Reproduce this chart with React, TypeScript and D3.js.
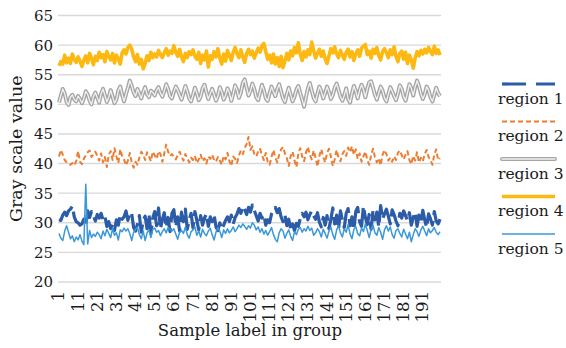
import React from "react";
import * as d3 from "d3";

const samples: number[] = Array.from({ length: 200 }, (_, i) => i + 1);
const tickLabels: number[] = [1, 11, 21, 31, 41, 51, 61, 71, 81, 91, 101, 111, 121, 131, 141, 151, 161, 171, 181, 191];
const yTicks: number[] = [20, 25, 30, 35, 40, 45, 50, 55, 60, 65];
const seriesNames: string[] = ["region 1", "region 2", "region 3", "region 4", "region 5"];

const region1: number[] = [
  30.5, 30.4, 31.3, 31.8, 31.2, 32.0, 32.3, 32.8, 31.0, 30.2, 30.0, 29.6, 29.8, 30.6, 29.5, 32.0, 30.9, 31.9, 31.2, 30.3,
  31.4, 30.8, 31.6, 30.5, 31.1, 29.4, 30.2, 29.0, 29.8, 28.7, 30.5, 29.6, 31.4, 30.6, 31.0, 32.0, 30.4, 31.8, 31.5, 29.2,
  28.6, 29.8, 31.2, 28.4, 30.5, 31.1, 29.0, 31.5, 28.2, 30.8, 31.9, 29.5, 32.5, 28.9, 30.6, 31.7, 29.2, 30.9, 28.5, 31.6,
  32.2, 29.3, 31.0, 28.6, 31.8, 30.2, 32.3, 28.9, 30.5, 31.6, 29.1, 31.9, 30.4, 28.8, 31.2, 29.6, 30.8, 31.5, 29.4, 31.0,
  30.2, 31.4, 29.3, 28.7, 30.0, 28.9, 29.6, 30.4, 31.0, 30.2, 31.3, 29.8, 30.9, 31.5, 32.4, 31.6, 32.8, 32.2, 31.4, 32.6,
  31.8, 33.0, 32.1, 31.2, 30.3, 31.6, 30.8, 31.4, 29.6, 30.5, 30.0, 31.5, 32.1, 32.6, 31.7, 32.4, 31.0, 30.2, 31.3, 29.5,
  30.6, 28.9, 29.8, 28.7, 29.9, 29.4, 30.7, 31.6, 31.0, 31.8, 30.5, 31.4, 32.0, 31.2, 30.6, 31.7, 30.1, 29.3, 30.9, 29.6,
  31.2, 29.0, 30.6, 32.5, 29.8, 31.3, 28.9, 32.0, 30.4, 29.2, 31.6, 32.4, 29.5, 31.0, 28.8, 31.9, 32.6, 30.2, 29.4, 32.8,
  30.9, 29.7, 31.4, 28.9, 32.1, 30.5, 31.8, 29.3, 32.9, 30.6, 31.5, 32.3, 31.1, 29.8, 32.2, 31.4, 30.3, 29.5, 31.6, 30.8,
  32.0, 31.2, 30.4, 31.7, 29.6, 30.9, 31.8, 29.4, 31.3, 30.1, 32.1, 30.5, 29.2, 31.5, 30.7, 29.6, 31.9, 30.3, 29.8, 30.6,
];

const region2: number[] = [
  41.2, 42.3, 41.5, 40.6, 40.2, 39.9, 39.8, 40.1, 39.7, 40.4, 42.1, 40.3, 39.9, 40.8, 41.4, 41.9, 42.2, 41.1, 41.6, 42.0,
  41.3, 40.5, 41.7, 40.2, 41.1, 39.4, 41.5, 42.1, 40.6, 42.6, 41.2, 40.1, 42.4, 41.3, 40.7, 39.7, 40.5, 41.8, 40.2, 39.3,
  40.3, 39.8, 41.0, 42.0, 41.5, 40.6, 41.9, 41.2, 40.4, 42.0, 41.4, 40.8, 42.1, 41.6, 40.3, 41.7, 43.2, 42.0, 41.3, 41.6,
  41.1, 40.7, 41.4, 42.0, 41.2, 40.5, 41.6, 40.9, 40.2, 41.0, 40.6, 41.3, 40.1, 40.7, 41.5, 40.4, 40.9, 40.0, 41.2, 40.8,
  41.5, 40.6, 40.3, 41.1, 40.5, 39.8, 41.3, 40.7, 41.8, 40.4, 39.6, 41.2, 40.8, 40.1, 41.4, 42.2, 41.6, 42.6, 43.3, 44.5,
  42.3, 42.9, 41.6, 41.2, 42.0, 42.5, 41.4, 40.6, 41.8, 40.3, 39.8, 41.1, 42.3, 41.0, 40.2, 41.5, 42.4, 42.8, 41.7, 40.9,
  39.6, 41.3, 42.0, 40.5, 39.4, 41.7, 42.6, 41.2, 40.4, 41.9, 42.8, 41.5, 40.7, 42.2, 41.0, 39.5, 41.3, 42.4, 41.1, 40.2,
  41.8, 42.5, 41.2, 39.6, 40.7, 42.3, 41.0, 40.4, 41.6, 42.1, 41.3, 42.7, 41.9, 42.9, 41.5, 42.4, 40.8, 41.7, 40.3, 41.2,
  42.0, 40.6, 39.8, 41.4, 42.5, 41.1, 40.2, 40.9, 39.7, 41.5, 42.3, 41.6, 40.5, 41.0, 40.3, 41.2, 40.6, 41.8, 42.2, 41.4,
  40.7, 41.5, 42.1, 40.6, 39.9, 41.3, 40.5, 41.9, 40.2, 41.0, 40.4, 41.6, 42.3, 41.1, 40.7, 39.8, 41.5, 42.4, 40.6, 40.9,
];

const region3: number[] = [
  50.3, 51.5, 52.6, 51.8, 50.4, 49.9, 51.2, 51.6, 50.8, 50.5, 51.4, 50.9, 50.2, 51.0, 52.2, 51.7, 50.6, 50.0, 51.3, 52.0,
  51.1, 50.3, 51.8, 52.6, 51.5, 50.4, 51.2, 52.4, 51.3, 50.2, 50.8, 52.3, 53.0, 51.6, 50.5, 51.7, 52.8, 54.0, 53.1, 52.0,
  51.4, 52.6, 51.8, 51.0, 52.1, 52.9, 51.7, 51.2, 52.3, 52.0, 51.5, 52.4, 52.9, 51.9, 51.3, 52.2, 53.4, 52.6, 51.4, 51.0,
  52.1, 53.0, 52.4, 51.6, 50.8, 51.9, 53.1, 52.2, 51.0, 50.5, 51.6, 52.8, 51.9, 50.7, 51.3, 52.7, 53.3, 52.0, 50.9, 51.8,
  52.6, 51.7, 50.6, 51.4, 52.9, 52.1, 50.8, 51.5, 52.7, 51.9, 50.6, 51.8, 53.2, 52.4, 51.1, 52.0, 53.6, 54.2, 52.8, 51.5,
  52.3, 53.5, 52.6, 51.2, 50.7, 52.0, 53.3, 52.4, 51.0, 50.6, 51.9, 53.0, 52.1, 51.4, 52.6, 53.4, 52.2, 51.0, 50.4, 51.7,
  52.8, 51.6, 50.5, 51.3, 52.5, 53.1, 51.9, 50.8, 49.6, 51.2, 52.7, 53.6, 52.3, 51.1, 50.5, 51.8, 53.0, 52.2, 51.0, 51.9,
  53.0, 52.1, 50.9, 51.6, 52.8, 53.5, 52.4, 51.3, 50.6, 51.5, 52.7, 50.9, 50.3, 51.8, 53.1, 52.2, 51.0, 52.4, 53.3, 52.5,
  51.2, 52.6, 53.7, 53.9, 52.8, 51.6, 50.8, 51.9, 53.0, 52.3, 51.1, 50.5, 51.7, 52.9, 52.2, 51.4, 50.7, 51.8, 53.2, 52.6,
  51.3, 50.6, 52.0, 53.4, 52.7, 51.5, 52.9, 54.0, 53.1, 51.8, 50.9, 51.7, 53.0, 52.4, 51.2, 50.5, 51.6, 52.8, 51.9, 51.4,
];

const region4: number[] = [
  56.5, 57.2, 56.8, 58.3, 57.0, 57.8, 56.9, 58.5, 57.6, 57.1, 58.0, 57.3, 56.4, 57.5, 58.2, 57.0, 58.6, 57.8, 56.7, 58.1,
  57.4, 58.8, 57.9, 58.4, 57.2, 58.9, 58.1, 57.5, 58.6, 57.0, 58.3, 57.6, 56.8, 58.7, 59.2, 58.5, 59.6, 60.0, 59.3, 58.0,
  57.2, 58.4, 56.8, 57.6, 56.0, 56.9, 58.2, 57.4, 58.8, 57.9, 58.5, 58.0, 59.1, 58.4, 57.9, 58.7, 59.4, 58.3, 59.0, 58.6,
  59.9, 58.8, 58.1, 59.3, 58.0, 57.2, 58.6, 57.9, 58.9, 58.4, 59.2, 58.1, 57.6, 58.8, 56.9, 58.3, 57.5, 59.0, 56.3, 58.2,
  57.6, 58.9, 58.0, 59.4, 57.8, 56.8, 58.5, 57.3, 59.1, 58.2, 57.4, 58.8, 59.6, 58.5, 57.9, 59.2, 58.0, 57.1, 58.6, 59.3,
  58.4, 59.0, 57.8, 58.7, 59.5, 58.8, 59.9, 60.3, 58.9, 57.6, 58.3, 57.0, 58.5, 56.8, 57.9, 56.4, 58.1, 56.2, 57.3, 58.6,
  57.5, 59.0, 58.2, 59.6, 58.7, 60.4, 58.5, 57.4, 58.9, 58.0, 59.2, 58.4, 60.5, 59.1, 57.8, 58.6, 59.3, 58.1, 59.0, 57.7,
  56.9, 58.2, 59.4, 58.7, 59.7, 58.5, 57.9, 59.1, 58.3, 57.6, 58.8, 59.3, 58.0, 58.9, 57.4, 58.5, 59.2, 58.1, 59.5, 59.8,
  60.1, 58.4, 59.0, 57.8, 59.3, 58.6, 59.6, 58.2, 57.5, 58.9, 59.4, 58.7, 57.9, 59.2, 58.4, 59.7, 58.1, 57.2, 58.6, 59.0,
  57.6, 58.8, 56.9, 58.3, 57.5, 56.1, 57.8, 58.9, 58.2, 59.1, 58.5, 59.3, 58.7, 59.6, 59.0, 58.4, 59.8, 58.6, 59.2, 58.3,
];

const region5: number[] = [
  28.2, 27.4, 27.0, 28.6, 29.5, 28.4, 27.3, 27.8, 26.8, 27.6, 27.1, 28.0, 26.9, 26.3, 36.5, 26.4, 28.7, 27.5, 28.1, 27.7,
  28.4, 28.0, 27.3, 28.6, 27.8, 28.9, 28.2, 27.5, 29.0, 27.9, 28.3, 27.1, 28.8, 28.5, 29.1, 28.6, 29.0, 28.2, 27.0, 28.4,
  28.9, 29.2, 28.0, 27.3, 28.6, 27.0, 28.3, 28.8, 27.5, 28.9, 29.1, 28.4, 28.7, 27.8, 28.5, 29.0, 28.3, 29.2, 28.9, 28.6,
  29.0, 28.1, 27.2, 28.4, 28.7, 28.2, 29.3, 28.0, 27.4, 28.5, 28.8, 29.3, 27.9, 28.6, 27.6, 28.9, 28.2, 27.8, 28.6, 29.1,
  28.0, 27.1, 28.4, 29.2, 28.6, 27.5, 28.8, 28.2, 29.0, 28.3, 28.7, 29.3, 28.5, 29.0, 29.6, 29.2, 29.8, 29.4, 28.9, 29.5,
  29.1, 30.0, 29.6, 28.8, 29.3, 28.4, 29.0, 28.1, 28.7, 27.9, 28.5, 29.2, 28.0, 27.2, 26.8, 28.3, 29.0, 28.6, 27.4, 28.2,
  28.8, 27.7, 27.0, 28.5, 28.0, 28.9, 29.2, 28.4, 29.0, 28.6, 29.4, 28.7, 29.1, 27.9, 28.3, 29.0, 28.5, 27.6, 28.9, 28.2,
  27.4, 28.6, 29.3, 28.0, 27.2, 28.8, 29.5, 28.3, 27.6, 29.0, 28.4, 29.7, 28.1, 27.3, 28.9, 29.4, 28.2, 27.8, 29.1, 28.5,
  29.8, 28.7, 27.5, 28.9, 29.6, 28.3, 27.9, 29.2, 28.4, 27.2, 28.8, 29.5, 28.6, 29.3, 28.0, 27.4, 28.7, 29.0, 28.2, 27.6,
  28.9, 28.1, 27.3, 28.4, 26.8, 28.0, 29.0, 28.5, 27.7, 28.8, 29.4, 28.6, 27.8, 29.0, 28.3, 28.7, 29.2, 28.4, 28.0, 28.5,
];

const FONT = "'DejaVu Serif', serif";

export default function App() {
  const W = 566;
  const H = 348;
  const x = d3.scalePoint<number>().domain(samples).range([58, 441]).padding(0.5);
  const y = d3.scaleLinear().domain([20, 65]).range([282, 15.5]);
  const lineGen = (vals: number[]) =>
    d3
      .line<number>()
      .x((_, i) => x(samples[i]) as number)
      .y((v) => y(v))(vals) as string;

  const legendY0 = 84;
  const legendStep = 37.5;

  const styles = [
    { color: "#2C5CA8", width: 3.2, dash: "26 6", legendDash: "24 10" },
    { color: "#ED7D31", width: 2, dash: "5 3", legendDash: "5 3" },
    { color: "#A5A5A5", width: 4, dash: "", legendDash: "" },
    { color: "#FDB912", width: 3.6, dash: "", legendDash: "" },
    { color: "#3A98DA", width: 1.5, dash: "", legendDash: "" },
  ];
  const data = [region1, region2, region3, region4, region5];

  return (
    <svg width={W} height={H} style={{ position: "absolute", left: 0, top: 0, background: "#fff" }}>
      <rect x={0} y={0} width={W} height={H} fill="#fff" />
      {yTicks.map((t) => (
        <g key={t}>
          <line x1={58} x2={441} y1={y(t)} y2={y(t)} stroke="#D9D9D9" strokeWidth={1.4} />
          <text x={53} y={y(t)} dy="0.36em" textAnchor="end" fontFamily={FONT} fontSize={15} fill="#1a1a1a">
            {t}
          </text>
        </g>
      ))}
      {tickLabels.map((t) => (
        <text
          key={t}
          transform={`translate(${(x(t) as number) + 5.5},291) rotate(-90)`}
          textAnchor="end"
          fontFamily={FONT}
          fontSize={16.5}
          fill="#1a1a1a"
        >
          {t}
        </text>
      ))}
      {data.map((vals, k) => {
        const s = styles[k];
        const d = lineGen(vals);
        if (k === 2) {
          return (
            <g key={k}>
              <path d={d} fill="none" stroke={s.color} strokeWidth={4} strokeLinejoin="round" />
              <path d={d} fill="none" stroke="#F2F2F2" strokeWidth={1.3} strokeLinejoin="round" />
            </g>
          );
        }
        return (
          <path
            key={k}
            d={d}
            fill="none"
            stroke={s.color}
            strokeWidth={s.width}
            strokeDasharray={s.dash || undefined}
            strokeLinejoin="round"
          />
        );
      })}
      <text
        transform={`translate(22,${(15.5 + 282) / 2}) rotate(-90)`}
        textAnchor="middle"
        fontFamily={FONT}
        fontSize={17.5}
        fill="#1a1a1a"
      >
        Gray scale value
      </text>
      <text x={250} y={336} textAnchor="middle" fontFamily={FONT} fontSize={16.5} fill="#1a1a1a">
        Sample label in group
      </text>
      {seriesNames.map((name, k) => {
        const s = styles[k];
        const ly = legendY0 + k * legendStep;
        return (
          <g key={name}>
            {k === 2 ? (
              <g>
                <line x1={502} x2={555} y1={ly} y2={ly} stroke={s.color} strokeWidth={4} strokeLinecap="round" />
                <line x1={502} x2={555} y1={ly} y2={ly} stroke="#F2F2F2" strokeWidth={1.3} strokeLinecap="round" />
              </g>
            ) : (
              <line
                x1={502}
                x2={555}
                y1={ly}
                y2={ly}
                stroke={s.color}
                strokeWidth={s.width}
                strokeDasharray={s.legendDash || undefined}
              />
            )}
            <text x={498} y={ly + 19.5} fontFamily={FONT} fontSize={15.5} fill="#1a1a1a">
              {name}
            </text>
          </g>
        );
      })}
    </svg>
  );
}
